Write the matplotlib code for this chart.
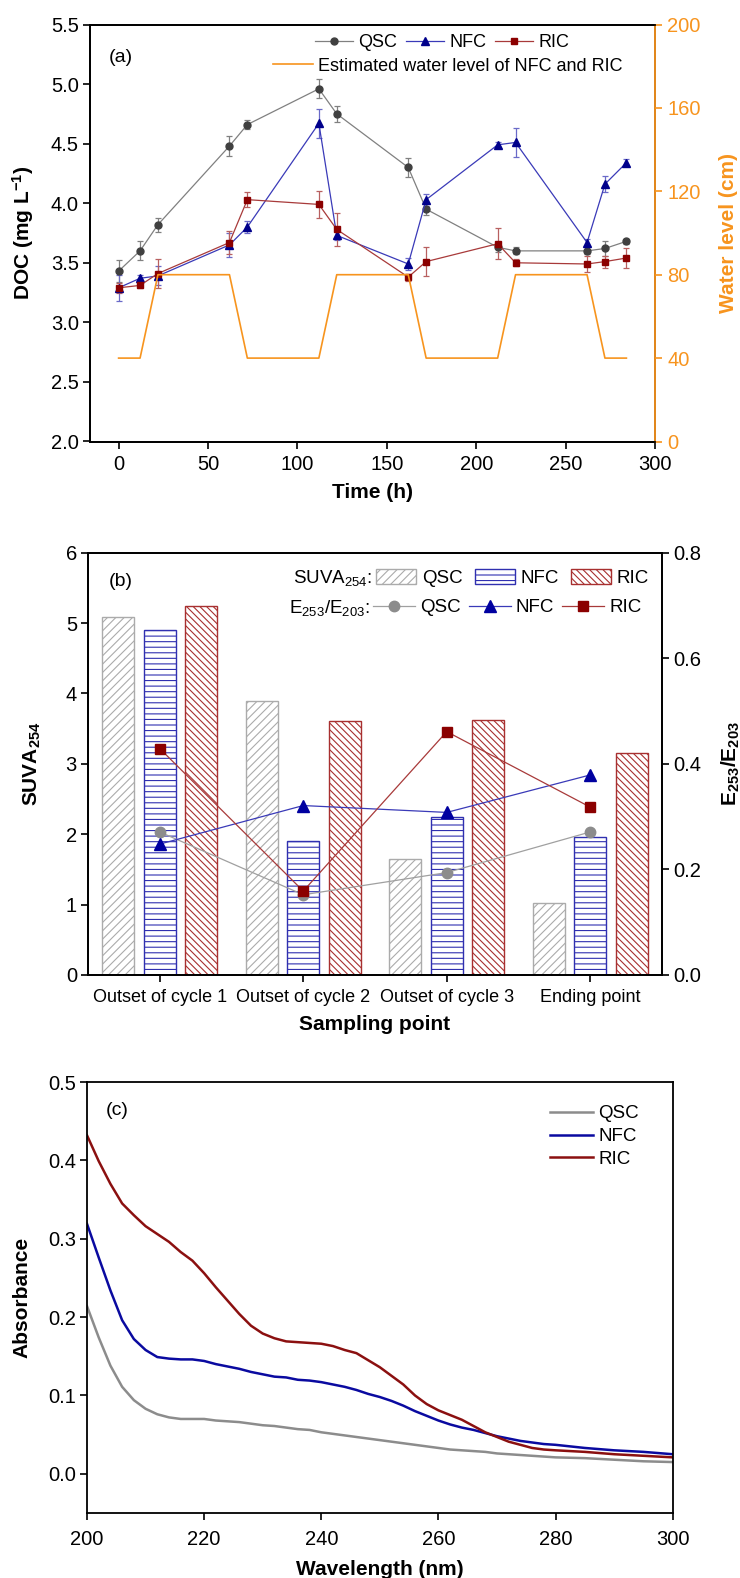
import numpy as np
import matplotlib
matplotlib.use('Agg')
import matplotlib.pyplot as plt
from matplotlib.ticker import MultipleLocator, FormatStrFormatter

plt.rcParams['font.family'] = ['Liberation Sans', 'DejaVu Sans']
plt.rcParams['mathtext.fontset'] = 'custom'
plt.rcParams['mathtext.rm'] = 'Liberation Sans'
plt.rcParams['mathtext.bf'] = 'Liberation Sans:bold'
plt.rcParams['mathtext.it'] = 'Liberation Sans:italic'
plt.rcParams['hatch.linewidth'] = 0.8
plt.rcParams['axes.linewidth'] = 1.3

# (a) DOC time series and water level
time_h = [0, 12, 22, 62, 72, 112, 122, 162, 172, 212, 222, 262, 272, 284]
doc_qsc = [3.43, 3.60, 3.82, 4.48, 4.66, 4.96, 4.75, 4.30, 3.95, 3.63, 3.60, 3.60, 3.62, 3.68]
doc_qsc_err = [0.09, 0.08, 0.06, 0.08, 0.04, 0.08, 0.07, 0.08, 0.05, 0.04, 0.03, 0.03, 0.06, 0.02]
doc_nfc = [3.29, 3.37, 3.39, 3.65, 3.80, 4.67, 3.73, 3.49, 4.03, 4.49, 4.51, 3.67, 4.16, 4.34]
doc_nfc_err = [0.11, 0.03, 0.08, 0.10, 0.05, 0.12, 0.04, 0.05, 0.05, 0.02, 0.12, 0.03, 0.07, 0.03]
doc_ric = [3.29, 3.31, 3.41, 3.67, 4.03, 3.99, 3.78, 3.38, 3.51, 3.66, 3.50, 3.49, 3.51, 3.54]
doc_ric_err = [0.04, 0.02, 0.12, 0.10, 0.06, 0.11, 0.14, 0.03, 0.12, 0.13, 0.03, 0.07, 0.05, 0.08]
water_level = [40, 40, 80, 80, 40, 40, 80, 80, 40, 40, 80, 80, 40, 40]

# (b) SUVA254 bars and E253/E203 ratios
sites = ['Outset of cycle 1', 'Outset of cycle 2', 'Outset of cycle 3', 'Ending point']
suva_qsc = [5.08, 3.89, 1.65, 1.02]
suva_nfc = [4.90, 1.91, 2.25, 1.96]
suva_ric = [5.24, 3.61, 3.63, 3.16]
ratio_qsc = [0.271, 0.152, 0.194, 0.271]
ratio_nfc = [0.248, 0.321, 0.308, 0.379]
ratio_ric = [0.429, 0.159, 0.461, 0.318]

# (c) UV absorbance spectra
wavelength = [200, 202, 204, 206, 208, 210, 212, 214, 216, 218, 220, 222, 224, 226, 228,
              230, 232, 234, 236, 238, 240, 242, 244, 246, 248, 250, 252, 254, 256, 258,
              260, 262, 264, 266, 268, 270, 272, 274, 276, 278, 280, 285, 290, 295, 300]
abs_qsc = [0.214, 0.174, 0.138, 0.111, 0.094, 0.083, 0.076, 0.072, 0.070, 0.070, 0.070,
           0.068, 0.067, 0.066, 0.064, 0.062, 0.061, 0.059, 0.057, 0.056, 0.053, 0.051,
           0.049, 0.047, 0.045, 0.043, 0.041, 0.039, 0.037, 0.035, 0.033, 0.031, 0.030,
           0.029, 0.028, 0.026, 0.025, 0.024, 0.023, 0.022, 0.021, 0.020, 0.018, 0.016, 0.015]
abs_nfc = [0.319, 0.276, 0.234, 0.196, 0.172, 0.158, 0.149, 0.147, 0.146, 0.146, 0.144,
           0.140, 0.137, 0.134, 0.130, 0.127, 0.124, 0.123, 0.120, 0.119, 0.117, 0.114,
           0.111, 0.107, 0.102, 0.098, 0.093, 0.087, 0.080, 0.074, 0.068, 0.063, 0.059,
           0.056, 0.052, 0.048, 0.045, 0.042, 0.040, 0.038, 0.037, 0.033, 0.030, 0.028, 0.025]
abs_ric = [0.432, 0.399, 0.370, 0.345, 0.330, 0.316, 0.306, 0.296, 0.283, 0.272, 0.256,
           0.238, 0.221, 0.204, 0.189, 0.179, 0.173, 0.169, 0.168, 0.167, 0.166, 0.163,
           0.158, 0.154, 0.145, 0.136, 0.125, 0.114, 0.100, 0.089, 0.081, 0.075, 0.069,
           0.061, 0.053, 0.047, 0.041, 0.037, 0.033, 0.031, 0.030, 0.028, 0.025, 0.023, 0.021]

ORANGE = '#F7941E'
GRAY_M, GRAY_L = '#404040', '#808080'
BLUE_M, BLUE_L = '#00008B', '#3A3AB8'
RED_M, RED_L = '#8B0000', '#A83A3A'

W, H = 740, 1578
fig = plt.figure(figsize=(W / 100, H / 100), dpi=100)


def box(left, right, top, bottom):
    return [left / W, 1 - bottom / H, (right - left) / W, (bottom - top) / H]


def style(ax, pad_x=5):
    ax.tick_params(direction='out', length=5, width=1.2, labelsize=14.5, pad=3)
    ax.tick_params(axis='x', pad=pad_x)


# ---------- panel (a) ----------
ax = fig.add_axes(box(90, 655, 24.5, 441.5))
ax2 = ax.twinx()
eb_q = ax.errorbar(time_h, doc_qsc, yerr=doc_qsc_err, color=GRAY_L, lw=0.9, marker='o',
                   ms=5, mfc=GRAY_M, mec=GRAY_M, ecolor=GRAY_L, elinewidth=0.9,
                   capsize=2.5, capthick=0.9)
eb_n = ax.errorbar(time_h, doc_nfc, yerr=doc_nfc_err, color=BLUE_L, lw=0.9, marker='^',
                   ms=5.5, mfc=BLUE_M, mec=BLUE_M, ecolor='#6A6AC8', elinewidth=0.9,
                   capsize=2.5, capthick=0.9)
eb_r = ax.errorbar(time_h, doc_ric, yerr=doc_ric_err, color=RED_L, lw=0.9, marker='s',
                   ms=5, mfc=RED_M, mec=RED_M, ecolor='#B86060', elinewidth=0.9,
                   capsize=2.5, capthick=0.9)
wl, = ax2.plot(time_h, water_level, color=ORANGE, lw=1.2)

ax.set_xlim(-16, 300)
ax.set_ylim(2.0, 5.5)
ax.xaxis.set_major_locator(MultipleLocator(50))
ax.yaxis.set_major_locator(MultipleLocator(0.5))
ax.yaxis.set_major_formatter(FormatStrFormatter('%.1f'))
ax2.set_ylim(0, 200)
ax2.yaxis.set_major_locator(MultipleLocator(40))
style(ax)
style(ax2)
ax2.tick_params(axis='y', colors=ORANGE, width=1.2, pad=4)
ax2.spines['right'].set_color(ORANGE)
ax.set_xlabel('Time (h)', fontsize=15, fontweight='bold')
ax.set_ylabel('DOC (mg L$^{\\mathbf{-1}}$)', fontsize=15, fontweight='bold')
ax2.set_ylabel('Water level (cm)', fontsize=15, fontweight='bold', color=ORANGE)
ax.xaxis.set_label_coords(0.5, -0.100)
ax.yaxis.set_label_coords(-0.095, 0.5)
ax2.yaxis.set_label_coords(1.114, 0.5)
ax2.text(0.033, 0.92, '(a)', transform=ax2.transAxes, fontsize=14, va='center')

leg1 = ax2.legend(handles=[eb_q[0], eb_n[0], eb_r[0]], labels=['QSC', 'NFC', 'RIC'],
                  loc='center left', bbox_to_anchor=(0.398, 0.956), ncol=3, frameon=False,
                  fontsize=13, borderpad=0, borderaxespad=0, handlelength=2.1,
                  handletextpad=0.3, columnspacing=0.5)
ax2.add_artist(leg1)
ax2.legend(handles=[wl], labels=['Estimated water level of NFC and RIC'], loc='center left',
           bbox_to_anchor=(0.324, 0.900), frameon=False, fontsize=13, borderpad=0,
           borderaxespad=0, handlelength=2.2, handletextpad=0.3)

# ---------- panel (b) ----------
bx = fig.add_axes(box(88, 662, 552.7, 975))
bx2 = bx.twinx()
x = np.arange(len(sites))
bw, off = 0.222, 0.288
b_q = bx.bar(x - off, suva_qsc, bw, color='white', edgecolor='#ABABAB', hatch='////',
             lw=1.0, label='QSC')
b_n = bx.bar(x, suva_nfc, bw, color='white', edgecolor='#3030B0', hatch='---',
             lw=1.0, label='NFC')
b_r = bx.bar(x + off, suva_ric, bw, color='white', edgecolor='#A83030', hatch='\\\\\\\\\\',
             lw=1.0, label='RIC')
l_q, = bx2.plot(x, ratio_qsc, color='#A0A0A0', lw=0.9, marker='o', ms=7.5,
                mfc='#8C8C8C', mec='#8C8C8C', label='QSC')
l_n, = bx2.plot(x, ratio_nfc, color=BLUE_L, lw=0.9, marker='^', ms=8,
                mfc='#0000A0', mec='#0000A0', label='NFC')
l_r, = bx2.plot(x, ratio_ric, color=RED_L, lw=0.9, marker='s', ms=7,
                mfc=RED_M, mec=RED_M, label='RIC')

bx.set_xlim(-0.5, 3.5)
bx.set_ylim(0, 6)
bx.yaxis.set_major_locator(MultipleLocator(1))
bx.set_xticks(x)
bx.set_xticklabels(sites)
bx2.set_ylim(0, 0.8)
bx2.yaxis.set_major_locator(MultipleLocator(0.2))
bx2.yaxis.set_major_formatter(FormatStrFormatter('%.1f'))
style(bx)
style(bx2)
bx.tick_params(axis='x', labelsize=13)
bx.set_xlabel('Sampling point', fontsize=15, fontweight='bold')
bx.set_ylabel('SUVA$_{\\mathbf{254}}$', fontsize=15, fontweight='bold')
bx2.set_ylabel('E$_{\\mathbf{253}}$/E$_{\\mathbf{203}}$', fontsize=15, fontweight='bold')
bx.xaxis.set_label_coords(0.5, -0.095)
bx.yaxis.set_label_coords(-0.078, 0.5)
bx2.yaxis.set_label_coords(1.100, 0.5)
bx2.text(0.037, 0.931, '(b)', transform=bx2.transAxes, fontsize=14, va='center')

leg_b1 = bx2.legend(handles=[b_q, b_n, b_r], loc='center left', bbox_to_anchor=(0.502, 0.941),
                    ncol=3, frameon=False, fontsize=13.5, borderpad=0, borderaxespad=0,
                    handlelength=2.15, handleheight=0.85, handletextpad=0.28,
                    columnspacing=0.65)
bx2.add_artist(leg_b1)
bx2.legend(handles=[l_q, l_n, l_r], loc='center left', bbox_to_anchor=(0.4965, 0.870),
           ncol=3, frameon=False, fontsize=13.5, borderpad=0, borderaxespad=0,
           handlelength=2.25, handletextpad=0.28, columnspacing=0.4)
bx2.text(0.4945, 0.941, 'SUVA$_{254}$:', transform=bx2.transAxes, fontsize=13.5,
         ha='right', va='center')
bx2.text(0.4905, 0.870, 'E$_{253}$/E$_{203}$:', transform=bx2.transAxes, fontsize=13.5,
         ha='right', va='center')

# ---------- panel (c) ----------
cx = fig.add_axes(box(87, 672.7, 1082, 1513))
cx.plot(wavelength, abs_qsc, color='#8C8C8C', lw=1.8, label='QSC')
cx.plot(wavelength, abs_nfc, color='#0A0AA0', lw=1.8, label='NFC')
cx.plot(wavelength, abs_ric, color='#8B1010', lw=1.8, label='RIC')
cx.set_xlim(200, 300)
cx.set_ylim(-0.05, 0.5)
cx.xaxis.set_major_locator(MultipleLocator(20))
cx.yaxis.set_major_locator(MultipleLocator(0.1))
cx.yaxis.set_major_formatter(FormatStrFormatter('%.1f'))
style(cx, pad_x=7)
cx.set_xlabel('Wavelength (nm)', fontsize=15, fontweight='bold')
cx.set_ylabel('Absorbance', fontsize=15, fontweight='bold')
cx.xaxis.set_label_coords(0.5, -0.108)
cx.yaxis.set_label_coords(-0.094, 0.5)
cx.text(0.032, 0.933, '(c)', transform=cx.transAxes, fontsize=14, va='center')
cx.legend(loc='upper left', bbox_to_anchor=(0.7905, 0.946), frameon=False, fontsize=13.5,
          borderpad=0, borderaxespad=0, handlelength=2.3, handletextpad=0.28,
          labelspacing=0.3)

fig.savefig('out.png', dpi=100)
